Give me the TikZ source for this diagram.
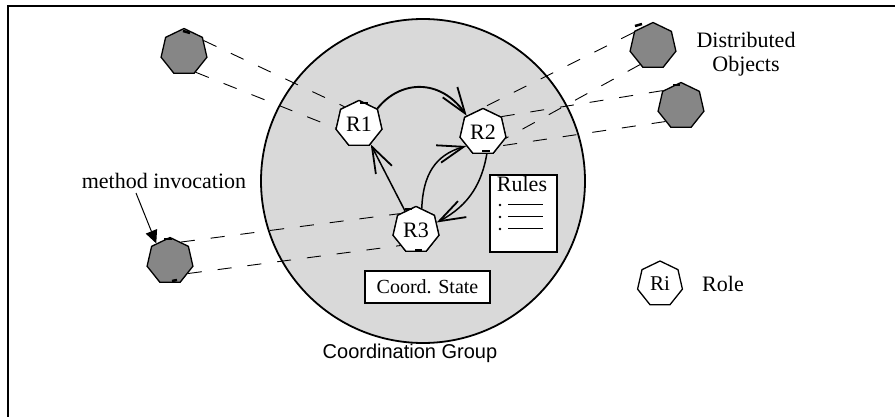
\documentclass[tikz,border=0pt]{standalone}
\usepackage{fontspec}
\setmainfont{Liberation Serif}
\newfontfamily\arialf{Liberation Sans}
\usetikzlibrary{shapes.geometric,arrows.meta}
\begin{document}
\begin{tikzpicture}[x=1pt,y=-1pt,
  role/.style={regular polygon, regular polygon sides=7, minimum size=47pt, inner sep=0pt, draw, line width=1.3pt, fill=white, font=\fontsize{22}{24}\selectfont},
  obj/.style={regular polygon, regular polygon sides=7, minimum size=47pt, inner sep=0pt, draw, line width=1.3pt, fill=gray!95},
  inv/.style={dash pattern=on 14pt off 16pt, line width=0.9pt},
  rel/.style={line width=1.5pt, -{Straight Barb[length=26pt,width=18pt,line width=1.8pt]}},
  boxed/.style={draw, line width=2.5pt, fill=white, inner sep=0pt},
  tick/.style={line width=2.5pt},
  lbl/.style={inner sep=0pt, font=\fontsize{22}{24}\selectfont}]
\useasboundingbox (0,0) rectangle (895,417);
\draw[line width=1.6pt] (8,417) -- (8,6) -- (895,6);
% group
\node[circle, draw, line width=1.8pt, fill=gray!30, minimum size=324pt, inner sep=0pt] (grp) at (423,181) {};
% distributed objects
\node[obj] (o1) at (184,52) {};
\node[obj] (o2) at (653,46) {};
\node[obj] (o3) at (681,106) {};
\node[obj] (o4) at (170,261) {};
% roles (named), then invocation lines, then roles redrawn on top
\coordinate (r1c) at (359,124);
\coordinate (r2c) at (483,132);
\coordinate (r3c) at (416,230);
\node[role] (r1) at (r1c) {};
\node[role] (r2) at (r2c) {};
\node[role] (r3) at (r3c) {};
\draw[inv] (o1.30) -- (r1.130);
\draw[inv] (o1.-60) -- (r1.190);
\draw[inv] (o2.145) -- (r2.100);
\draw[inv] (o2.235) -- (r2.-15);
\draw[inv] (o3.140) -- (r2.40);
\draw[inv] (o3.225) -- (r2.-40);
\draw[inv] (o4.60) -- (r3.135);
\draw[inv] (o4.-35) -- (r3.225);
\node[role] at (r1c) {R1};
\node[role] at (r2c) {R2};
\node[role] at (r3c) {R3};
% small marks on shapes
\draw[tick] (183,31) -- (190,33);
\draw[tick] (635,26) -- (642,24);
\draw[tick] (673,85) -- (680,85);
\draw[tick] (164,239) -- (172,239);
\draw[tick] (172,281) -- (177,280);
\draw[tick] (360,103) -- (368,103);
\draw[tick] (482,151) -- (490,151);
\draw[tick] (405,209) -- (412,209);
\draw[tick] (415,250) -- (422,250);
% relations
\draw[rel, line width=1.9pt] (r1.40) .. controls (400,80) and (440,78) .. (r2.135);
\draw[rel] (r2.-80) .. controls (482,182) and (470,205) .. (r3.20);
\draw[rel] (r3.75) .. controls (423,175) and (435,155) .. (r2.220);
\draw[rel] (r3.120) -- (r1.-60);
% rules box
\node[boxed, minimum width=67pt, minimum height=77pt] (rules) at (523.5,213.5) {};
\node[lbl, anchor=base] (rulest) at (522,192) {Rules};
\foreach \yy/\nm in {205/ba,217/bb,229/bc}{
  \fill (500,\yy) circle (1.3pt);
  \coordinate (\nm1) at (508,\yy);
  \coordinate (\nm2) at (543,\yy);
  \draw[line width=1pt] (\nm1) -- (\nm2);
}
% coord state
\node[boxed, minimum width=125pt, minimum height=32pt, font=\fontsize{20}{22}\selectfont] (cs) at (427.5,287) {Coord. State};
% legend
\node[role, minimum size=46pt, font=\fontsize{21}{23}\selectfont] (ri) at (660,284) {Ri};
\node[lbl] (role) at (723,284) {Role};
% labels
\node[inner sep=0pt, align=center, font=\fontsize{22}{24}\selectfont] (dobj) at (746,54) {Distributed\\Objects};
\node[lbl] (mi) at (164,181) {method invocation};
\coordinate (mistart) at (136,193);
\draw[line width=1pt, -{Triangle[length=13pt,width=12pt]}] (mistart) -- (o4.128);
\node[inner sep=0pt, font=\arialf\fontsize{20}{22}\selectfont] (cg) at (410,353) {Coordination Group};
\end{tikzpicture}
\end{document}
